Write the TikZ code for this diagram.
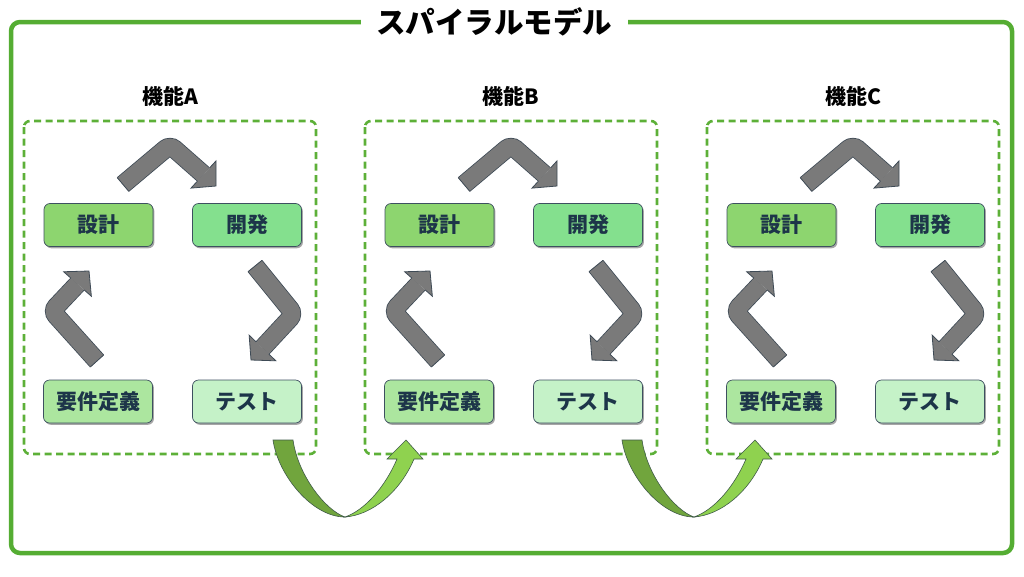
\documentclass[tikz,border=0pt]{standalone}
\usepackage{fontspec}
\setmainfont{Noto Sans CJK JP}
\usetikzlibrary{calc,shadows}
\definecolor{framegreen}{HTML}{55AD33}
\definecolor{dashgreen}{HTML}{5DB038}
\definecolor{boxline}{HTML}{3D5060}
\definecolor{boxtext}{HTML}{1D3549}
\definecolor{cdesign}{HTML}{8DD56F}
\definecolor{cdev}{HTML}{84E08E}
\definecolor{creq}{HTML}{ACE69F}
\definecolor{ctest}{HTML}{C5F2C8}
\definecolor{chevgray}{HTML}{7A7A7A}
\definecolor{chevline}{HTML}{3E4A55}
\definecolor{darkpiece}{HTML}{71A53D}
\definecolor{lightpiece}{HTML}{8FD24F}
\definecolor{pieceline}{HTML}{3F5A48}
\newcommand\chevron[4]{%
  \draw[draw=chevline, line width=0.8pt, double=chevgray, double distance=17.2pt, rounded corners=6pt] #1 -- #2 -- #3;
  \draw[chevline, line width=0.8pt] ($#1!9pt!90:#2$) -- ($#1!9pt!-90:#2$);
  \fill[chevgray] ($#3!18.5pt!90:#4$) -- #4 -- ($#3!18.5pt!-90:#4$) -- cycle;
  \draw[chevline, line width=0.8pt, line join=miter] ($#3!9pt!90:#4$) -- ($#3!18.5pt!90:#4$) -- #4 -- ($#3!18.5pt!-90:#4$) -- ($#3!9pt!-90:#4$);
}
\begin{document}
\begin{tikzpicture}[x=1pt,y=-1pt,
  stepbox/.style={draw=boxline, line width=0.7pt, rounded corners=6pt, minimum width=109pt, minimum height=43pt, inner sep=0pt,
    text=boxtext, font=\bfseries\fontsize{21}{23}\selectfont,
    drop shadow={shadow xshift=1.4pt, shadow yshift=-1.8pt, opacity=0.35, fill=black}},
  panel/.style={draw=dashgreen, line width=2.6pt, dash pattern=on 7pt off 4.5pt, rounded corners=6pt},
  plabel/.style={font=\bfseries\fontsize{21}{23}\selectfont, text=black, inner sep=0pt},
  piece/.style={draw=pieceline, line width=0.6pt, line join=miter}]
\useasboundingbox (0,0) rectangle (1024,576);
\draw[framegreen, line width=4.5pt, rounded corners=9pt] (11,22) rectangle (1012,553);
\node[fill=white, inner sep=0pt, minimum width=267pt, minimum height=30pt, font=\bfseries\fontsize{29.5}{31}\selectfont] (title) at (494,22) {スパイラルモデル};
\foreach \dx/\lab in {0/A,341/B,683/C}{
  \begin{scope}[xshift=\dx]
    \draw[panel] (24,121) rectangle (316,454);
    \node[plabel] (lab\lab) at (170,96) {機能\lab};
    \node[stepbox, fill=cdesign] (des\lab) at (98.5,225) {設計};
    \node[stepbox, fill=cdev] (dev\lab) at (247,225) {開発};
    \node[stepbox, fill=creq] (req\lab) at (98,401.5) {要件定義};
    \node[stepbox, fill=ctest] (tst\lab) at (247,401.5) {テスト};
    \chevron{(123,184.5)}{(170,145)}{(203.5,174.5)}{(216,186)}
    \chevron{(255,266)}{(294,314)}{(262.5,348)}{(251,360)}
    \chevron{(97,361)}{(52,311)}{(77.5,284)}{(89,271)}
  \end{scope}
}
\foreach \dx in {0,349}{
  \begin{scope}[xshift=\dx]
    \filldraw[piece, fill=darkpiece] (273,440) .. controls (278,475) and (312,517) .. (345,517)
      .. controls (325,510) and (298,475) .. (293,440) -- cycle;
    \filldraw[piece, fill=lightpiece] (345,517) .. controls (372,515) and (400,492) .. (414,459)
      -- (423,459) -- (406,440) -- (387,459) -- (397,459)
      .. controls (385,487) and (365,510) .. (345,517) -- cycle;
  \end{scope}
}
\end{tikzpicture}
\end{document}
